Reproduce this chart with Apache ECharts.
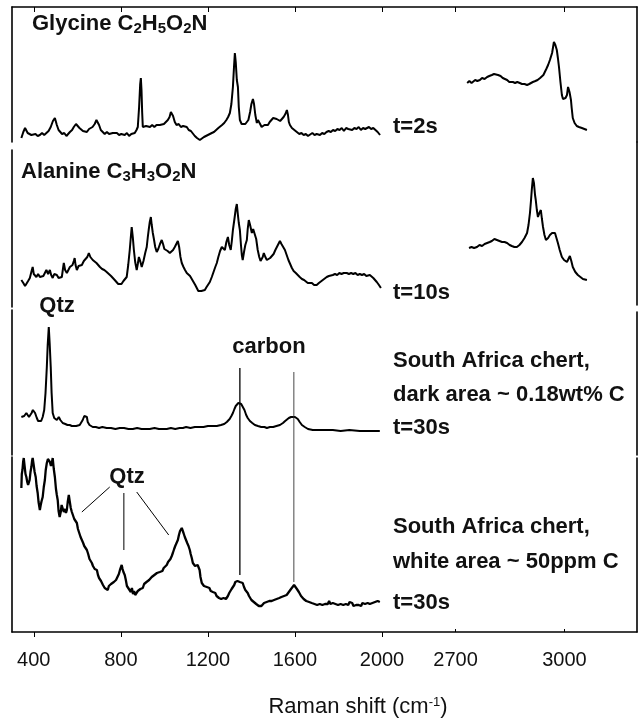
<!DOCTYPE html>
<html>
<head>
<meta charset="utf-8">
<title>Raman spectra</title>
<script src="https://cdn.jsdelivr.net/npm/echarts@6/dist/echarts.min.js"></script>
<style>
  html, body { margin: 0; padding: 0; background: #fff; }
  #chart { width: 642px; height: 718px; }
</style>
</head>
<body>
<div id="chart"></div>
<script>
// ---- Spectra: [Raman shift (cm-1), relative intensity] ----
const glycineLow = [[343,4],[352,10],[360,14],[366,14],[372,9],[380,7],[389,7],[398,5],[408,8],[418,6],[428,7],[438,9],[448,7],[458,9],[468,11],[478,15],[488,21],[497,24],[506,17],[514,12],[520,12],[530,8],[540,9],[550,6],[556,7],[566,10],[576,12],[584,15],[594,18],[602,19],[610,14],[618,13],[626,11],[634,12],[644,10],[654,13],[662,12],[670,15],[680,18],[688,22],[694,24],[700,17],[708,12],[717,10],[726,8],[736,10],[746,8],[755,10],[763,9],[772,7],[782,9],[792,7],[802,8],[810,6],[818,7],[828,9],[838,6],[848,8],[855,7],[864,9],[872,12],[878,15],[884,35],[889,58],[892,64],[895,52],[898,30],[901,15],[908,13],[916,16],[924,14],[934,15],[944,17],[954,15],[964,17],[972,18],[979,17],[988,19],[998,18],[1006,19],[1016,22],[1024,25],[1030,30],[1034,32],[1040,26],[1048,20],[1056,17],[1066,18],[1076,15],[1086,16],[1095,14],[1103,15],[1112,12],[1122,11],[1131,9],[1140,6],[1150,4],[1157,2],[1163,2],[1172,3],[1182,5],[1190,4],[1200,7],[1209,7],[1218,9],[1228,10],[1238,12],[1248,14],[1255,15],[1265,17],[1275,19],[1285,22],[1293,25],[1301,29],[1308,38],[1315,55],[1320,75],[1324,89],[1328,80],[1333,62],[1338,55],[1342,35],[1347,22],[1355,18],[1364,16],[1372,18],[1379,17],[1386,22],[1394,30],[1400,38],[1407,43],[1412,38],[1418,27],[1425,19],[1430,22],[1434,24],[1440,18],[1447,15],[1453,15],[1460,17],[1468,16],[1476,17],[1484,20],[1492,22],[1500,24],[1508,25],[1516,23],[1524,22],[1532,21],[1540,22],[1548,25],[1556,28],[1563,32],[1568,27],[1572,20],[1577,17],[1586,14],[1595,12],[1603,11],[1609,10],[1620,8],[1630,9],[1640,7],[1650,8],[1660,6],[1669,7],[1680,9],[1690,7],[1700,8],[1715,7],[1725,9],[1735,8],[1745,10],[1755,11],[1765,10],[1775,12],[1785,11],[1795,13],[1805,12],[1815,14],[1825,11],[1835,14],[1845,13],[1853,14],[1863,12],[1873,14],[1883,13],[1893,15],[1903,12],[1913,14],[1923,13],[1931,14],[1940,15],[1950,13],[1960,14],[1970,12],[1980,10],[1991,7]];

const glycineHigh = [[2732,59],[2738,61],[2744,59],[2748,60],[2754,62],[2760,61],[2767,62],[2773,64],[2780,63],[2787,65],[2793,66],[2800,67],[2806,68],[2811,70],[2817,67],[2824,66],[2830,64],[2836,63],[2842,62],[2848,60],[2853,61],[2858,60],[2864,59],[2870,60],[2877,59],[2883,58],[2890,58],[2897,57],[2903,58],[2908,59],[2913,60],[2920,61],[2926,62],[2933,64],[2938,66],[2942,67],[2946,70],[2950,73],[2955,77],[2960,82],[2966,89],[2971,100],[2975,97],[2979,92],[2982,84],[2985,75],[2989,60],[2993,47],[2996,43],[2999,42],[3003,44],[3007,47],[3010,55],[3014,50],[3018,42],[3020,34],[3023,24],[3028,19],[3034,16],[3040,15],[3048,14],[3055,13],[3062,12]];

const alanineLow = [[343,27],[352,24],[360,21],[366,20],[374,26],[382,29],[390,36],[395,40],[400,33],[405,32],[412,30],[420,33],[428,30],[436,32],[444,31],[451,34],[458,37],[466,33],[474,37],[480,32],[487,29],[494,33],[500,31],[506,32],[514,29],[522,31],[529,30],[534,38],[538,44],[544,37],[552,34],[560,36],[566,40],[570,39],[578,42],[584,46],[588,49],[592,42],[598,37],[606,41],[614,40],[621,42],[630,46],[639,47],[646,50],[653,54],[660,50],[666,48],[671,47],[680,45],[688,44],[694,42],[704,40],[714,38],[724,37],[735,35],[745,33],[755,31],[764,29],[772,27],[780,26],[788,23],[795,22],[803,23],[812,26],[820,28],[827,30],[834,42],[841,57],[846,70],[850,80],[855,70],[860,57],[866,45],[873,37],[878,43],[883,50],[889,46],[896,40],[904,46],[912,54],[919,60],[924,70],[928,77],[933,85],[938,90],[942,82],[947,74],[952,68],[958,60],[965,55],[972,58],[980,63],[988,67],[994,63],[1000,58],[1007,57],[1015,56],[1020,55],[1025,54],[1032,55],[1040,57],[1048,60],[1055,63],[1062,66],[1068,60],[1074,50],[1080,44],[1088,40],[1095,37],[1103,34],[1110,33],[1118,31],[1126,29],[1134,25],[1142,22],[1149,19],[1156,16],[1163,14],[1170,16],[1178,15],[1186,17],[1194,20],[1202,22],[1209,25],[1218,30],[1226,35],[1234,40],[1241,44],[1248,50],[1256,56],[1264,60],[1270,58],[1278,57],[1285,65],[1292,70],[1298,62],[1305,57],[1310,66],[1315,77],[1322,88],[1328,98],[1333,103],[1338,92],[1342,84],[1347,77],[1352,62],[1356,52],[1360,47],[1366,55],[1372,62],[1379,67],[1383,78],[1388,87],[1394,82],[1402,74],[1408,78],[1416,80],[1422,68],[1429,57],[1436,50],[1442,46],[1448,44],[1452,50],[1457,54],[1464,50],[1471,47],[1478,48],[1486,49],[1494,50],[1502,53],[1510,57],[1517,60],[1524,63],[1531,66],[1538,63],[1546,60],[1554,57],[1562,52],[1570,47],[1578,43],[1586,39],[1594,36],[1604,34],[1613,32],[1622,30],[1632,28],[1642,27],[1650,25],[1659,24],[1668,23],[1678,24],[1688,22],[1700,22],[1710,24],[1718,26],[1728,27],[1737,29],[1746,30],[1756,31],[1765,30],[1774,32],[1784,33],[1794,32],[1804,34],[1814,33],[1824,34],[1838,34],[1848,33],[1858,34],[1868,33],[1878,34],[1888,32],[1898,33],[1908,32],[1918,33],[1928,31],[1936,32],[1944,32],[1952,30],[1960,29],[1968,27],[1976,25],[1986,22],[1995,19]];

const alanineHigh = [[2737,57],[2744,58],[2751,57],[2759,58],[2766,60],[2773,59],[2780,61],[2787,62],[2794,63],[2800,64],[2807,66],[2814,65],[2821,64],[2828,63],[2835,63],[2842,62],[2849,60],[2855,59],[2862,58],[2869,58],[2876,60],[2883,63],[2890,67],[2897,72],[2901,80],[2905,92],[2908,105],[2910,115],[2913,127],[2916,122],[2919,110],[2921,105],[2924,95],[2927,88],[2931,92],[2935,95],[2938,86],[2941,78],[2945,70],[2949,65],[2952,66],[2955,67],[2960,70],[2966,72],[2970,73],[2974,72],[2978,67],[2982,62],[2987,55],[2993,48],[2999,45],[3003,44],[3007,43],[3011,46],[3015,49],[3019,44],[3023,38],[3030,33],[3037,30],[3044,28],[3051,26],[3056,26],[3062,25]];

const chertDark = [[343,38],[350,40],[356,39],[362,41],[366,42],[372,40],[378,38],[382,39],[390,42],[396,45],[400,46],[406,42],[414,37],[420,34],[428,32],[434,34],[441,38],[448,45],[454,62],[460,88],[464,110],[469,128],[473,112],[478,88],[482,62],[487,42],[494,37],[500,36],[506,35],[510,37],[515,38],[522,35],[533,32],[545,31],[555,30],[565,30],[575,29],[585,29],[595,29],[604,30],[611,30],[618,32],[625,35],[632,39],[639,41],[644,38],[648,33],[656,30],[664,29],[671,28],[685,28],[700,27],[715,28],[735,27],[755,27],[775,26],[795,27],[815,27],[835,26],[855,26],[875,27],[895,26],[915,26],[933,26],[955,27],[975,26],[995,26],[1011,26],[1030,27],[1050,26],[1070,27],[1085,27],[1100,28],[1120,27],[1140,28],[1163,28],[1180,28],[1200,29],[1220,29],[1241,29],[1260,30],[1275,31],[1287,33],[1300,36],[1308,39],[1315,42],[1322,46],[1328,49],[1333,50],[1340,52],[1347,53],[1353,51],[1360,49],[1368,45],[1376,40],[1383,37],[1393,34],[1404,32],[1416,30],[1430,29],[1445,28],[1460,28],[1471,27],[1485,28],[1500,28],[1515,29],[1531,30],[1545,32],[1555,34],[1563,35],[1572,37],[1582,38],[1590,38],[1600,38],[1607,37],[1613,36],[1622,33],[1632,30],[1645,28],[1660,26],[1682,25],[1710,25],[1740,25],[1774,25],[1810,24],[1850,25],[1898,24],[1940,24],[1990,24]];

const chertWhite = [[343,144],[345,158],[348,162],[351,170],[354,174],[358,166],[362,158],[366,155],[370,150],[374,147],[377,145],[381,152],[385,160],[389,165],[392,171],[395,174],[399,168],[404,160],[409,155],[413,146],[418,139],[422,130],[425,126],[428,122],[432,127],[436,131],[441,135],[446,145],[451,152],[455,162],[460,169],[465,173],[469,175],[474,170],[479,166],[483,169],[487,174],[492,163],[497,155],[502,143],[506,137],[510,132],[514,121],[519,115],[524,120],[528,127],[533,125],[538,120],[544,123],[548,119],[552,122],[556,130],[561,137],[565,131],[570,124],[575,120],[580,118],[586,113],[592,111],[598,109],[603,103],[609,99],[615,95],[621,92],[627,89],[632,86],[638,84],[644,82],[650,78],[656,73],[661,71],[667,69],[672,66],[676,68],[680,63],[685,64],[690,62],[695,57],[700,54],[705,55],[709,51],[713,50],[718,47],[722,48],[726,44],[731,46],[735,45],[740,42],[745,46],[750,44],[755,48],[759,46],[763,47],[768,50],[773,49],[778,52],[782,53],[786,54],[791,58],[796,62],[800,64],[804,67],[808,63],[812,60],[818,57],[823,52],[828,46],[833,44],[837,43],[841,42],[846,40],[851,44],[856,38],[861,41],[866,37],[873,39],[878,41],[884,40],[890,43],[896,42],[901,44],[907,48],[912,46],[918,50],[924,49],[930,52],[936,50],[942,55],[948,53],[954,57],[960,55],[966,59],[972,57],[979,60],[985,62],[991,61],[997,64],[1004,63],[1011,67],[1017,70],[1022,69],[1028,73],[1034,76],[1039,79],[1045,83],[1050,86],[1056,89],[1062,92],[1067,97],[1072,101],[1076,103],[1080,104],[1084,102],[1088,99],[1094,95],[1099,93],[1105,89],[1111,86],[1117,82],[1121,78],[1126,74],[1131,69],[1136,67],[1141,66],[1145,64],[1149,65],[1153,67],[1158,69],[1162,62],[1166,55],[1172,49],[1177,48],[1182,46],[1188,47],[1195,45],[1201,43],[1207,44],[1213,41],[1218,42],[1223,40],[1229,38],[1234,39],[1240,36],[1246,37],[1251,34],[1255,35],[1261,33],[1266,35],[1272,34],[1278,36],[1283,33],[1287,34],[1292,36],[1298,39],[1303,41],[1309,43],[1315,45],[1321,47],[1326,50],[1331,48],[1336,51],[1342,52],[1347,50],[1353,51],[1360,49],[1366,45],[1372,42],[1378,41],[1383,39],[1389,36],[1394,34],[1400,32],[1405,33],[1411,30],[1416,30],[1422,28],[1428,29],[1434,26],[1440,28],[1446,26],[1452,27],[1458,29],[1464,27],[1470,30],[1476,28],[1482,31],[1488,29],[1493,31],[1498,30],[1504,32],[1510,30],[1516,33],[1522,31],[1528,34],[1533,32],[1538,35],[1544,34],[1550,36],[1556,35],[1562,37],[1568,38],[1572,40],[1577,40],[1582,43],[1586,45],[1591,44],[1596,47],[1600,49],[1604,45],[1609,43],[1614,41],[1618,40],[1622,39],[1628,36],[1634,35],[1640,33],[1646,34],[1652,31],[1659,32],[1665,30],[1671,31],[1677,29],[1683,30],[1690,28],[1696,29],[1702,27],[1708,29],[1714,28],[1720,30],[1726,27],[1732,29],[1738,28],[1745,30],[1751,28],[1757,31],[1763,28],[1769,30],[1774,29],[1780,31],[1786,28],[1792,30],[1798,27],[1804,29],[1810,28],[1816,30],[1822,27],[1828,29],[1834,28],[1838,29],[1845,27],[1851,30],[1857,28],[1863,29],[1869,26],[1875,28],[1881,27],[1887,29],[1893,27],[1898,28],[1904,26],[1910,29],[1916,27],[1922,28],[1928,26],[1934,29],[1940,27],[1944,28],[1950,26],[1956,29],[1962,27],[1968,30],[1974,28],[1980,31],[1985,29],[1990,30]];

// Carbon D and G band markers (shift) and their vertical extent on the chert overlay scale
const carbonBands = [1347, 1595];
const carbonSpan = [[57, 264], [50, 260]];
// Leader lines from the lower "Qtz" label to the quartz features
const qtzLeaders = [
  [[749, 145], [621, 120]],
  [[814, 139], [814, 82]],
  [[873, 140], [1020, 97]]
];

// Axis ticks
const lowTicks = [400, 800, 1200, 1600, 2000];
const highTicks = [2700, 3000];

// ---- Layout ----
const FONT = "'Liberation Sans', Arial, Helvetica, sans-serif";
const INK = '#111';
const FRAME = { color: '#000', width: 1.6 };

const leftRows = [[7, 135], [150, 157], [310, 145], [457, 175]];
const rightRows = [[7, 135], [142, 163], [312, 143], [458, 174]];

const grids = [];
leftRows.forEach(r => grids.push({ left: 12, width: 370, top: r[0], height: r[1] }));
rightRows.forEach(r => grids.push({ left: 383, width: 254, top: r[0], height: r[1] }));
grids.push({ left: 12, width: 370, top: 310, height: 322 }); // overlay for the chert annotations

const xAxes = [];
const yAxes = [];
for (let i = 0; i < 9; i++) {
  const isRight = i >= 4 && i <= 7;
  const min = isRight ? 2500 : 300;
  const max = isRight ? 3200 : 2000;
  const ticks = isRight ? highTicks : lowTicks;
  const ax = { type: 'value', gridIndex: i, min, max, show: false };
  if (i === 0 || i === 4) {
    Object.assign(ax, {
      show: true, position: 'top',
      axisLine: { show: true, onZero: false, lineStyle: FRAME },
      axisTick: { show: true, inside: true, length: 5, customValues: ticks, lineStyle: { color: '#000', width: 1 } },
      axisLabel: { show: false }, splitLine: { show: false }
    });
  }
  if (i === 3 || i === 7) {
    Object.assign(ax, {
      show: true, position: 'bottom',
      axisLine: { show: true, onZero: false, lineStyle: FRAME },
      axisTick: { show: true, inside: i === 7, length: i === 7 ? 3 : 5, customValues: ticks, lineStyle: { color: '#000', width: 1 } },
      axisLabel: {
        show: true, customValues: ticks, margin: 18, color: INK,
        fontFamily: FONT, fontSize: 20, formatter: v => String(v)
      },
      splitLine: { show: false }
    });
  }
  xAxes.push(ax);
  yAxes.push({
    type: 'value', gridIndex: i, min: 0, max: grids[i].height,
    show: i !== 8,
    position: isRight ? 'right' : 'left',
    axisLine: { show: true, onZero: false, lineStyle: FRAME },
    axisTick: { show: false }, axisLabel: { show: false }, splitLine: { show: false }
  });
}

function spectrum(name, data, gi, width) {
  return {
    name, type: 'line', xAxisIndex: gi, yAxisIndex: gi, data,
    showSymbol: false, smooth: false, animation: false, silent: true,
    lineStyle: { color: '#000', width: width || 2 }
  };
}

const series = [
  spectrum('Glycine', glycineLow, 0),
  spectrum('Alanine', alanineLow, 1),
  spectrum('Chert dark', chertDark, 2),
  spectrum('Chert white', chertWhite, 3, 2.3),
  spectrum('Glycine CH', glycineHigh, 4),
  spectrum('Alanine CH', alanineHigh, 5)
];
carbonBands.forEach((v, k) => {
  series.push({
    type: 'line', xAxisIndex: 8, yAxisIndex: 8, animation: false, silent: true,
    showSymbol: false,
    data: [[v, carbonSpan[k][0]], [v, carbonSpan[k][1]]],
    lineStyle: { color: k === 0 ? '#000' : '#333', width: k === 0 ? 1.3 : 0.9 }
  });
});
qtzLeaders.forEach(seg => {
  series.push({
    type: 'line', xAxisIndex: 8, yAxisIndex: 8, animation: false, silent: true,
    showSymbol: false, data: seg,
    lineStyle: { color: '#000', width: 1 }
  });
});

// ---- Text annotations ----
const boldRich = {
  m: { fontFamily: FONT, fontWeight: 'bold', fontSize: 22, fill: INK },
  s: { fontFamily: FONT, fontWeight: 'bold', fontSize: 15, fill: INK, padding: [10, 0, 0, 0] }
};
function label(text, x, y, opts) {
  opts = opts || {};
  return {
    type: 'text', x, y, silent: true, z: 10,
    style: Object.assign({
      text, fill: INK,
      font: (opts.weight || 'bold') + ' ' + (opts.size || 22) + 'px ' + FONT,
      align: opts.align || 'left', verticalAlign: 'middle'
    }, opts.rich ? { rich: opts.rich } : {})
  };
}

const graphics = [
  label('{m|Glycine C}{s|2}{m|H}{s|5}{m|O}{s|2}{m|N}', 32, 24, { rich: boldRich }),
  label('t=2s', 393, 127),
  label('{m|Alanine C}{s|3}{m|H}{s|3}{m|O}{s|2}{m|N}', 21, 172, { rich: boldRich }),
  label('t=10s', 393, 293),
  label('Qtz', 57, 306, { align: 'center' }),
  label('carbon', 269, 347, { align: 'center' }),
  label('South Africa chert,', 393, 361),
  label('dark area ~ 0.18wt% C', 393, 395),
  label('t=30s', 393, 428),
  label('Qtz', 127, 477, { align: 'center' }),
  label('South Africa chert,', 393, 527),
  label('white area ~ 50ppm C', 393, 562),
  label('t=30s', 393, 603),
  label('{m|Raman shift (cm}{p|-1}{m|)}', 358, 707, {
    weight: 'normal', align: 'center',
    rich: {
      m: { fontFamily: FONT, fontSize: 22, fill: INK },
      p: { fontFamily: FONT, fontSize: 13, fill: INK, padding: [0, 0, 10, 0] }
    }
  })
];

const chart = echarts.init(document.getElementById('chart'), null, { renderer: 'canvas' });
chart.setOption({
  backgroundColor: '#fff',
  animation: false,
  grid: grids,
  xAxis: xAxes,
  yAxis: yAxes,
  series,
  graphic: graphics
});
</script>
</body>
</html>
